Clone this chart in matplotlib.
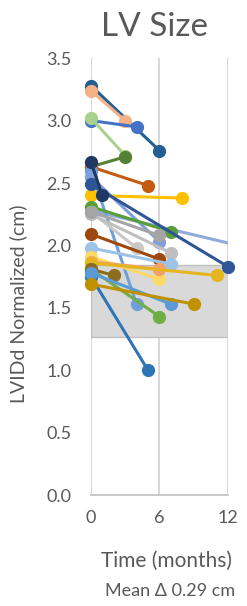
'''
LV size over time, normalized LVIDd per patient
'''

import matplotlib
matplotlib.use('Agg')
import matplotlib.pyplot as plt
from matplotlib.patches import Rectangle

plt.rcParams['font.family'] = ['Lato', 'DejaVu Sans']

# one row per patient: colour, months, LVIDd (cm)
colors = ['#255e91', '#f4b183', '#4472c4', '#a9d18e', '#548235', '#c55a11',
          '#6fa0dc', '#7f9fdc', '#ffc000', '#5a9e3a', '#c9c9c9', '#bfbfbf',
          '#a5a5a5', '#9e480e', '#9dc3e6', '#ffd966', '#f4a26a', '#e5b51f',
          '#70ad47', '#8c6d1f', '#2e75b6', '#5b9bd5', '#bf9000', '#2f5597',
          '#1f3864']
months = [[0, 6], [0, 3], [0, 4], [0, 3], [0, 3], [0, 5],
          [0, 4], [0, 6], [0, 8], [0, 7], [0, 4], [0, 7],
          [0, 6], [0, 6], [0, 7], [0, 6], [0, 6], [0, 11],
          [0, 6], [0, 2], [0, 5], [0, 7], [0, 9], [0, 12],
          [0, 1]]
lvidd = [[3.28, 2.76], [3.24, 3.00], [3.00, 2.95], [3.02, 2.72], [2.63, 2.71], [2.63, 2.48],
         [2.60, 1.53], [2.55, 2.03], [2.40, 2.38], [2.31, 2.11], [2.27, 1.98], [2.25, 1.94],
         [2.27, 2.08], [2.09, 1.89], [1.98, 1.85], [1.91, 1.73], [1.87, 1.81], [1.86, 1.76],
         [1.81, 1.43], [1.81, 1.76], [1.75, 1.00], [1.78, 1.53], [1.69, 1.53], [2.49, 1.83],
         [2.67, 2.40]]

# faint trend line that runs off the right edge (no end marker)
trend_x = [0, 12]
trend_y = [2.28, 2.02]

# grey band
band_lo, band_hi = 1.27, 1.84

xticks = [0, 6, 12]
yticks = [0.0, 0.5, 1.0, 1.5, 2.0, 2.5, 3.0, 3.5]

grey = '#595959'

fig = plt.figure(figsize=(2.47, 6.06), dpi=100)
ax = fig.add_axes([0.368, 0.183, 0.555, 0.721])

ax.add_patch(Rectangle((0, band_lo), 12, band_hi - band_lo,
                       facecolor='#d9d9d9', edgecolor='#bfbfbf', lw=1, zorder=1))

for c, xs, ys in zip(colors, months, lvidd):
    ax.plot(xs, ys, '-o', color=c, lw=2.2, ms=8.5, clip_on=False, zorder=3)
ax.plot(trend_x, trend_y, '-', color='#8faadc', lw=2.2, zorder=2)
ax.plot(trend_x[:1], trend_y[:1], 'o', color='#8faadc', ms=8.5, clip_on=False, zorder=2)

ax.set_xlim(0, 12)
ax.set_ylim(0, 3.5)
ax.set_xticks(xticks)
ax.set_yticks(yticks)
ax.set_yticklabels(['%.1f' % v for v in yticks])
ax.xaxis.grid(True, color='#d0d0d0', lw=1.2)
ax.set_axisbelow(True)
for s in ['top', 'right', 'left']:
    ax.spines[s].set_visible(False)
ax.spines['bottom'].set_color('#bfbfbf')
ax.spines['bottom'].set_linewidth(1.2)
ax.tick_params(length=0, labelsize=13, colors=grey)
ax.tick_params(axis='y', pad=14)
ax.tick_params(axis='x', pad=11)

fig.text(0.625, 0.955, 'LV Size', ha='center', va='center', fontsize=24, color=grey)
fig.text(0.675, 0.075, 'Time (months)', ha='center', va='center', fontsize=15, color=grey)
fig.text(0.69, 0.024, 'Mean \u0394 0.29 cm', ha='center', va='center', fontsize=13, color=grey)
fig.text(0.075, 0.498, 'LVIDd Normalized (cm)', ha='center', va='center', rotation=90,
         fontsize=14, color=grey)

fig.savefig('out.png', dpi=100)
